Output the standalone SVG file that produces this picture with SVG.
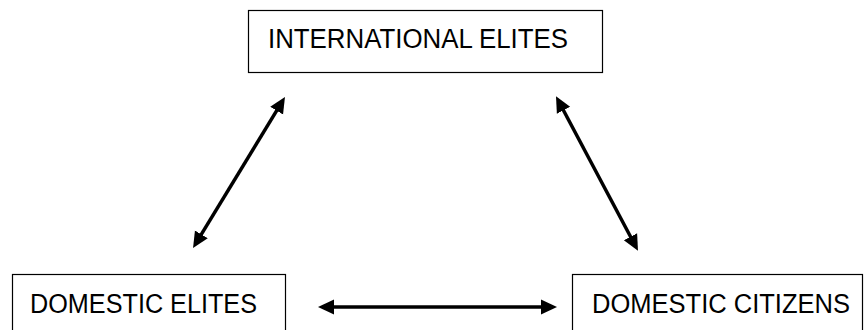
<svg xmlns="http://www.w3.org/2000/svg" width="864" height="330" viewBox="0 0 864 330">
<style>
.box{fill:#fff;stroke:#000;stroke-width:1.2}
.lbl{font-family:"Liberation Sans",Arial,sans-serif;font-size:27px;fill:#000}
.conn{stroke:#000;stroke-width:3.5;fill:none;marker-start:url(#ah);marker-end:url(#ah)}
</style>
<defs>
<marker id="ah" markerUnits="userSpaceOnUse" markerWidth="18" markerHeight="16" refX="3" refY="8" orient="auto-start-reverse" viewBox="0 0 18 16">
<path d="M0,0.5 L16,8 L0,15.5 z" fill="#000"/>
</marker>
</defs>
<rect width="864" height="330" fill="#fff"/>
<g id="international-elites">
<rect class="box" x="248.5" y="10.5" width="354" height="62"/>
<text class="lbl" x="268" y="48" textLength="300" lengthAdjust="spacingAndGlyphs">INTERNATIONAL ELITES</text>
</g>
<g id="domestic-elites">
<rect class="box" x="12.5" y="274.5" width="273" height="70"/>
<text class="lbl" x="30" y="313" textLength="227" lengthAdjust="spacingAndGlyphs">DOMESTIC ELITES</text>
</g>
<g id="domestic-citizens">
<rect class="box" x="572.5" y="274.5" width="290" height="70"/>
<text class="lbl" x="592" y="313" textLength="258" lengthAdjust="spacingAndGlyphs">DOMESTIC CITIZENS</text>
</g>
<g id="connectors">
<line class="conn" x1="199.8" y1="236.9" x2="278.2" y2="108.1"/>
<line class="conn" x1="562.1" y1="107.7" x2="631.9" y2="239.3"/>
<line class="conn" x1="331" y1="307" x2="544" y2="307"/>
</g>
</svg>
